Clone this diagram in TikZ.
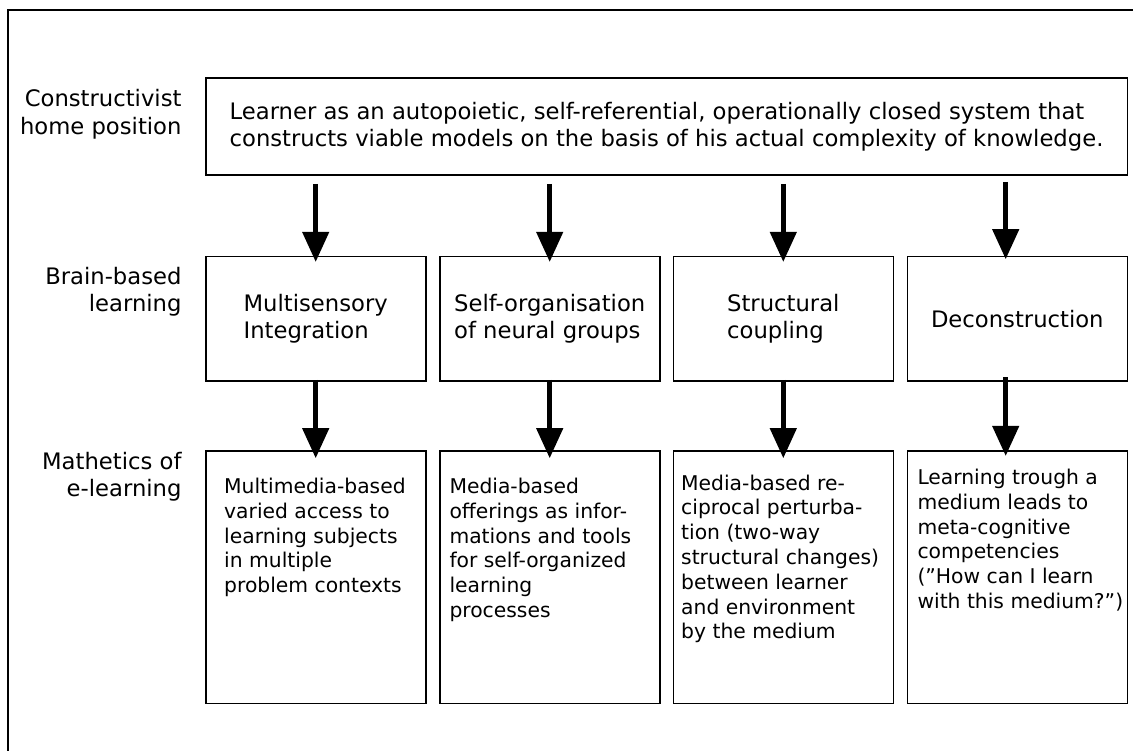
\documentclass[tikz,border=0pt]{standalone}
\usepackage{fontspec}
\setmainfont{DejaVu Sans}
\usetikzlibrary{arrows.meta,calc}
\begin{document}
\begin{tikzpicture}[x=1pt,y=-1pt,
  box/.style={draw, line width=1.6pt, inner sep=0pt, minimum width=220pt},
  big/.style={font=\fontsize{22.7}{27.5}\selectfont},
  small/.style={font=\fontsize{20.3}{24.8}\selectfont},
  lab/.style={big, align=right, anchor=north east, inner sep=0pt},
  txt/.style={small, align=left, anchor=north west, inner sep=0pt},
  arr/.style={line width=4.5pt, -{Triangle[length=30pt,width=26pt]}},
  frame/.style={line width=1.6pt}]
\useasboundingbox (0,0) rectangle (1133,751);
\fill[white] (0,0) rectangle (1133,751);
\coordinate (fbl) at (7.7,751);
\coordinate (fc) at (7.7,10);
\coordinate (ftr) at (1133,10);
\draw[frame] (fbl) -- (fc) -- (ftr);

% top box
\node[box, big, align=left, minimum width=921.6pt, minimum height=97pt] (top) at (666.5,126.5)
  {Learner as an autopoietic, self-referential, operationally closed system that\\constructs viable models on the basis of his actual complexity of knowledge.};

% row 2
\node[box, big, align=left, minimum height=124.3pt] (b1) at (315.7,318.85) {Multisensory\\Integration};
\node[box, big, align=left, minimum height=124.3pt] (b2) at (549.7,318.85) {Self-organisation\\of neural groups};
\node[box, big, align=left, minimum height=124.3pt] (b3) at (783.3,318.85) {Structural\\coupling};
\node[box, big, align=left, minimum height=124.3pt] (b4) at (1017.3,318.85) {Deconstruction};

% row 3
\node[box, minimum height=252.6pt] (m1) at (315.7,577) {};
\node[box, minimum height=252.6pt] (m2) at (549.7,577) {};
\node[box, minimum height=252.6pt] (m3) at (783.3,577) {};
\node[box, minimum height=252.6pt] (m4) at (1017.3,577) {};

\node[txt] (t1) at (224,475.9) {\strut Multimedia-based\\varied access to\\learning subjects\\in multiple\\problem contexts};
\node[txt] (t2) at (449.3,475.9) {\strut Media-based\\offerings as infor-\\mations and tools\\for self-organized\\learning\\processes};
\node[txt] (t3) at (681,472.6) {\strut Media-based re-\\ciprocal perturba-\\tion (two-way\\structural changes)\\between learner\\and environment\\by the medium};
\node[txt] (t4) at (917.3,466.9) {\strut Learning trough a\\medium leads to\\meta-cognitive\\competencies\\(”How can I learn\\with this medium?”)};

% left labels
\node[lab] (l1) at (181.7,87.45) {\strut Constructivist\\home position};
\node[lab] (l2) at (181.7,264.75) {\strut Brain-based\\learning};
\node[lab] (l3) at (181.7,449.75) {\strut Mathetics of\\e-learning};

% arrows row 1
\draw[arr] ($(top.south -| b1.north)+(0,8)$) -- ($(b1.north)+(0,6)$);
\draw[arr] ($(top.south -| b2.north)+(0,8)$) -- ($(b2.north)+(0,6)$);
\draw[arr] ($(top.south -| b3.north)+(0,8)$) -- ($(b3.north)+(0,6)$);
\draw[arr] ($(top.south -| b4.north)+(-11.6,6)$) -- ($(b4.north)+(-11.6,3.3)$);

% arrows row 2
\draw[arr] ($(b1.south)+(0,-2)$) -- ($(m1.north)+(0,8.3)$);
\draw[arr] ($(b2.south)+(0,-2)$) -- ($(m2.north)+(0,8.3)$);
\draw[arr] ($(b3.south)+(0,-2)$) -- ($(m3.north)+(0,8.3)$);
\draw[arr] ($(b4.south)+(-11.6,-4.3)$) -- ($(m4.north)+(-11.6,6)$);
\end{tikzpicture}
\end{document}
